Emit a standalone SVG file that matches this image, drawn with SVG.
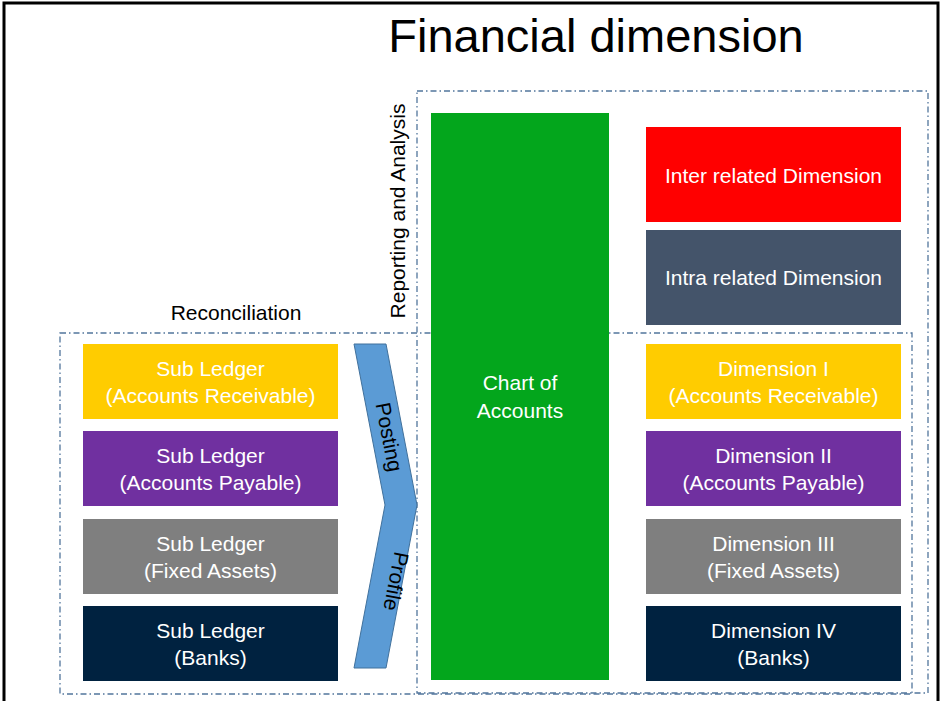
<svg xmlns="http://www.w3.org/2000/svg" width="941" height="701" viewBox="0 0 941 701">
<style>
.frame{fill:none;stroke:#000;stroke-width:3}
.dash{fill:none;stroke:#52769C;stroke-width:1.3;stroke-dasharray:6 3 1.5 3}
.t{font-family:"Liberation Sans",Arial,sans-serif;font-size:21px;text-anchor:middle}
.w{fill:#fff}
.k{fill:#000}
.title{font-family:"Liberation Sans",Arial,sans-serif;font-size:47px;text-anchor:middle;fill:#000}
</style>
<rect width="941" height="701" fill="#fff"/>
<path class="frame" d="M4,701 V3 H938 V701"/>
<text class="title" x="596" y="52">Financial dimension</text>

<g id="reporting-area">
<rect class="dash" x="417" y="91" width="511" height="602"/>
<text class="t k" transform="translate(405,211) rotate(-90)">Reporting and Analysis</text>
</g>
<g id="reconciliation-area">
<rect class="dash" x="60" y="333" width="852" height="361"/>
<text class="t k" x="236" y="320">Reconciliation</text>
</g>

<g id="chart-of-accounts">
<rect x="431" y="113" width="178" height="567" fill="#03A61C"/>
<text class="t w" x="520" y="390">Chart of</text>
<text class="t w" x="520" y="418">Accounts</text>
</g>

<g id="connectors">
<g id="posting-profile">
<polygon points="354,344 386,344 417,505 386,668 354,668 385,505" fill="#5B9BD5" stroke="#41719C" stroke-width="1"/>
<text class="t k" transform="translate(389,437) rotate(79)" dy="7">Posting</text>
<text class="t k" transform="translate(389,580) rotate(101)">Profile</text>
</g>
</g>

<g id="sub-ledger-ar">
<rect x="83" y="344" width="255" height="75" fill="#FFCC00"/>
<text class="t w" x="210.5" y="376">Sub Ledger</text>
<text class="t w" x="210.5" y="403">(Accounts Receivable)</text>
</g>
<g id="sub-ledger-ap">
<rect x="83" y="431" width="255" height="75" fill="#7030A0"/>
<text class="t w" x="210.5" y="463">Sub Ledger</text>
<text class="t w" x="210.5" y="490">(Accounts Payable)</text>
</g>
<g id="sub-ledger-fa">
<rect x="83" y="519" width="255" height="75" fill="#7F7F7F"/>
<text class="t w" x="210.5" y="551">Sub Ledger</text>
<text class="t w" x="210.5" y="578">(Fixed Assets)</text>
</g>
<g id="sub-ledger-banks">
<rect x="83" y="606" width="255" height="75" fill="#002240"/>
<text class="t w" x="210.5" y="638">Sub Ledger</text>
<text class="t w" x="210.5" y="665">(Banks)</text>
</g>

<g id="inter-related">
<rect x="646" y="127" width="255" height="95" fill="#FF0000"/>
<text class="t w" x="773.5" y="183">Inter related Dimension</text>
</g>
<g id="intra-related">
<rect x="646" y="230" width="255" height="95" fill="#44546A"/>
<text class="t w" x="773.5" y="285">Intra related Dimension</text>
</g>
<g id="dimension-1">
<rect x="646" y="344" width="255" height="75" fill="#FFCC00"/>
<text class="t w" x="773.5" y="376">Dimension I</text>
<text class="t w" x="773.5" y="403">(Accounts Receivable)</text>
</g>
<g id="dimension-2">
<rect x="646" y="431" width="255" height="75" fill="#7030A0"/>
<text class="t w" x="773.5" y="463">Dimension II</text>
<text class="t w" x="773.5" y="490">(Accounts Payable)</text>
</g>
<g id="dimension-3">
<rect x="646" y="519" width="255" height="75" fill="#7F7F7F"/>
<text class="t w" x="773.5" y="551">Dimension III</text>
<text class="t w" x="773.5" y="578">(Fixed Assets)</text>
</g>
<g id="dimension-4">
<rect x="646" y="606" width="255" height="75" fill="#002240"/>
<text class="t w" x="773.5" y="638">Dimension IV</text>
<text class="t w" x="773.5" y="665">(Banks)</text>
</g>
</svg>
